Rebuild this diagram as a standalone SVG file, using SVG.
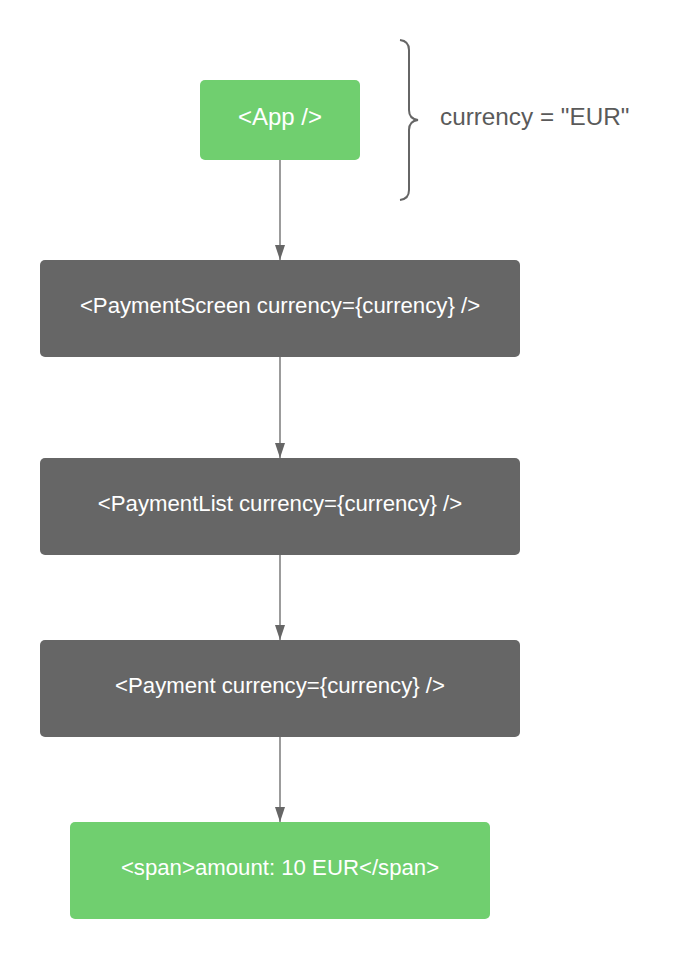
<svg xmlns="http://www.w3.org/2000/svg" width="680" height="960" viewBox="0 0 680 960">
<style>
.green{fill:#70cf6f}
.dark{fill:#666666}
.t{font-family:"Liberation Sans",Arial,sans-serif;font-size:22.2px;fill:#ffffff;text-anchor:middle}
.conn{stroke:#666666;stroke-width:1.3;fill:none}
.lbl{font-family:"Liberation Sans",Arial,sans-serif;font-size:24.3px;fill:#5a5a5a}
</style>
<defs>
<marker id="arr" markerWidth="15" markerHeight="10" refX="15" refY="5" orient="auto" markerUnits="userSpaceOnUse" viewBox="0 0 15 10">
<path d="M0,0 L15,5 L0,10 Z" fill="#666666"/>
</marker>
</defs>
<rect width="680" height="960" fill="#ffffff"/>
<g id="connectors">
<line class="conn" x1="280" y1="160" x2="280" y2="260" marker-end="url(#arr)"/>
<line class="conn" x1="280" y1="357" x2="280" y2="458" marker-end="url(#arr)"/>
<line class="conn" x1="280" y1="555" x2="280" y2="640" marker-end="url(#arr)"/>
<line class="conn" x1="280" y1="737" x2="280" y2="822" marker-end="url(#arr)"/>
</g>
<g id="app">
<rect class="green" x="200" y="80" width="160" height="80" rx="5"/>
<text class="t" x="280" y="125" style="font-size:24px">&lt;App /&gt;</text>
</g>
<g id="brace">
<path d="M400,40 Q409,41 409,50 L409,110 Q409,119 418,120 Q409,121 409,130 L409,190 Q409,199 400,200" stroke="#666666" stroke-width="2" fill="none"/>
<text class="lbl" x="440" y="125">currency = "EUR"</text>
</g>
<g id="paymentscreen">
<rect class="dark" x="40" y="260" width="480" height="97" rx="5"/>
<text class="t" x="280" y="313">&lt;PaymentScreen currency={currency} /&gt;</text>
</g>
<g id="paymentlist">
<rect class="dark" x="40" y="458" width="480" height="97" rx="5"/>
<text class="t" x="280" y="511">&lt;PaymentList currency={currency} /&gt;</text>
</g>
<g id="payment">
<rect class="dark" x="40" y="640" width="480" height="97" rx="5"/>
<text class="t" x="280" y="693">&lt;Payment currency={currency} /&gt;</text>
</g>
<g id="span">
<rect class="green" x="70" y="822" width="420" height="97" rx="5"/>
<text class="t" x="280" y="875">&lt;span&gt;amount: 10 EUR&lt;/span&gt;</text>
</g>
</svg>
